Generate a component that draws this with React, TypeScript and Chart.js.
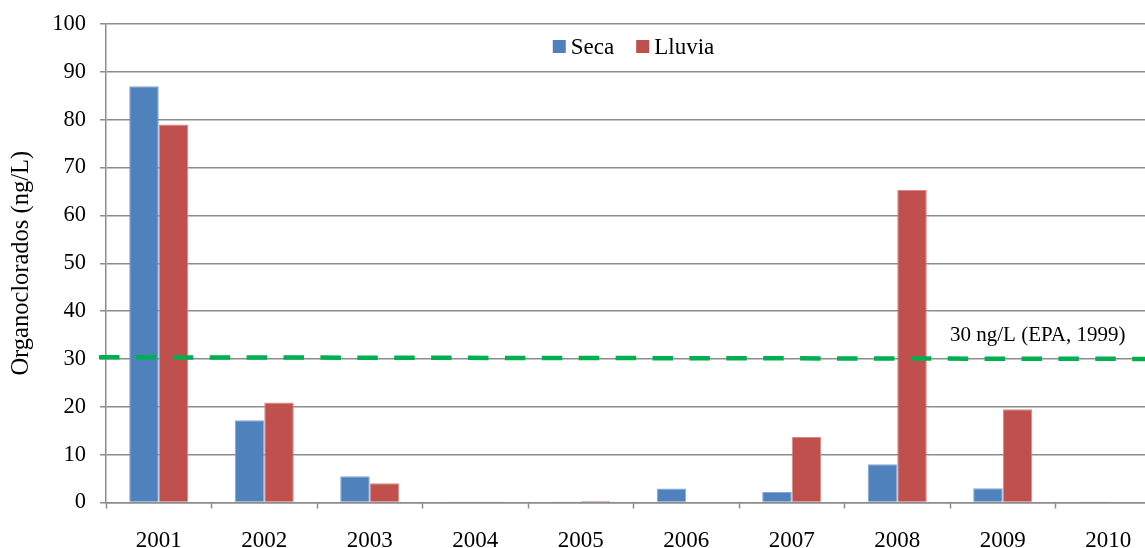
import React, { useEffect, useRef } from 'react';
import { Chart, registerables } from 'chart.js';

Chart.register(...registerables);

const years = ['2001', '2002', '2003', '2004', '2005', '2006', '2007', '2008', '2009', '2010'];
const seriesNames = ['Seca', 'Lluvia'];
const secaValues = [87.0, 17.2, 5.5, 0.1, 0.1, 2.9, 2.2, 8.0, 3.0, 0.1];
const lluviaValues = [79.0, 20.9, 4.0, 0.1, 0.3, 0, 13.7, 65.3, 19.5, 0];
const yTicks = [0, 10, 20, 30, 40, 50, 60, 70, 80, 90, 100];
const epaLine = [30.35, 30.0];
const epaLabel = '30 ng/L (EPA, 1999)';
const epaLabelValue = 33.8;
const epaLabelCategory = 8;
const yTitle = 'Organoclorados (ng/L)';

const FONT = '"Liberation Serif", "Times New Roman", serif';
const BLUE = '#4F81BD';
const RED = '#C0504D';
const GREEN = '#00B050';
const GRID = '#8C8C8C';

const overlayPlugin = {
  id: 'overlay',
  afterDatasetsDraw(chart: any) {
    const { ctx, scales } = chart;
    const xs = scales.x;
    const ys = scales.y;
    ctx.save();
    ctx.strokeStyle = GREEN;
    ctx.lineWidth = 4.5;
    ctx.setLineDash([20.5, 16.4]);
    ctx.beginPath();
    ctx.moveTo(xs.left - 7, ys.getPixelForValue(epaLine[0]));
    ctx.lineTo(chart.width, ys.getPixelForValue(epaLine[1]));
    ctx.stroke();
    ctx.restore();
  },
  afterDraw(chart: any) {
    const { ctx, scales, chartArea } = chart;
    const xs = scales.x;
    const ys = scales.y;
    ctx.save();
    ctx.fillStyle = '#000';
    ctx.font = '21px ' + FONT;
    ctx.textAlign = 'left';
    ctx.textBaseline = 'alphabetic';
    const catW = (xs.right - xs.left) / years.length;
    ctx.fillText(epaLabel, xs.left + epaLabelCategory * catW, ys.getPixelForValue(epaLabelValue));

    ctx.font = '23px ' + FONT;
    ctx.textBaseline = 'middle';
    const box = 13;
    const gapText = 5;
    const gapItem = 22;
    const colors = chart.data.datasets.map((d: any) => d.backgroundColor);
    const labels = chart.data.datasets.map((d: any) => d.label);
    const widths = labels.map((l: string) => box + gapText + ctx.measureText(l).width);
    const total = widths.reduce((a: number, b: number) => a + b, 0) + gapItem * (labels.length - 1);
    let x = (chartArea.left + chartArea.right) / 2 - total / 2;
    const cy = chartArea.top + 22.5;
    labels.forEach((l: string, i: number) => {
      ctx.fillStyle = colors[i];
      ctx.fillRect(x, cy - box / 2, box, box);
      ctx.fillStyle = '#000';
      ctx.fillText(l, x + box + gapText, cy + 1);
      x += widths[i] + gapItem;
    });
    ctx.restore();
  },
};

export default function App() {
  const ref = useRef<HTMLCanvasElement | null>(null);

  useEffect(() => {
    if (!ref.current) return;
    const chart = new Chart(ref.current, {
      type: 'bar',
      data: {
        labels: years,
        datasets: [
          {
            label: seriesNames[0],
            data: secaValues,
            backgroundColor: BLUE,
            borderColor: '#86A6D3',
            borderWidth: 1,
            categoryPercentage: 0.56,
            barPercentage: 1,
          },
          {
            label: seriesNames[1],
            data: lluviaValues,
            backgroundColor: RED,
            borderColor: '#D58A88',
            borderWidth: 1,
            categoryPercentage: 0.56,
            barPercentage: 1,
          },
        ],
      },
      options: {
        responsive: false,
        animation: false,
        devicePixelRatio: 1,
        layout: { padding: { top: 24, right: 9, left: 0, bottom: 0 } },
        plugins: {
          legend: { display: false },
          tooltip: { enabled: false },
        },
        scales: {
          x: {
            offset: true,
            grid: {
              offset: true,
              drawOnChartArea: false,
              drawTicks: true,
              tickLength: 6,
              tickColor: GRID,
              tickWidth: 1.5,
            },
            border: { color: GRID, width: 1.5 },
            ticks: {
              color: '#000',
              font: { family: FONT, size: 23 },
              padding: 19,
              maxRotation: 0,
            },
            afterFit(scale: any) {
              scale.height = 45.5;
              scale.paddingLeft = 0;
              scale.paddingRight = 0;
            },
          },
          y: {
            min: 0,
            max: 100,
            afterBuildTicks(scale: any) {
              scale.ticks = yTicks.map((v) => ({ value: v }));
            },
            grid: {
              color: GRID,
              lineWidth: 1.5,
              drawTicks: true,
              tickLength: 6,
              tickColor: GRID,
            },
            border: { color: GRID, width: 1.5 },
            ticks: {
              color: '#000',
              font: { family: FONT, size: 22.5 },
              padding: 14,
            },
            title: {
              display: true,
              text: yTitle,
              color: '#000',
              font: { family: FONT, size: 24.5 },
              padding: { top: 7, bottom: 0 },
            },
            afterFit(scale: any) {
              scale.width = 106;
              scale.paddingTop = 0;
              scale.paddingBottom = 0;
            },
          },
        },
      },
      plugins: [overlayPlugin],
    } as any);
    return () => chart.destroy();
  }, []);

  return (
    <div
      style={{
        position: 'fixed',
        left: 0,
        top: 0,
        width: 1145,
        height: 548,
        overflow: 'hidden',
        background: '#fff',
      }}
    >
      <canvas ref={ref} width={1170} height={548} style={{ display: 'block' }} />
    </div>
  );
}
